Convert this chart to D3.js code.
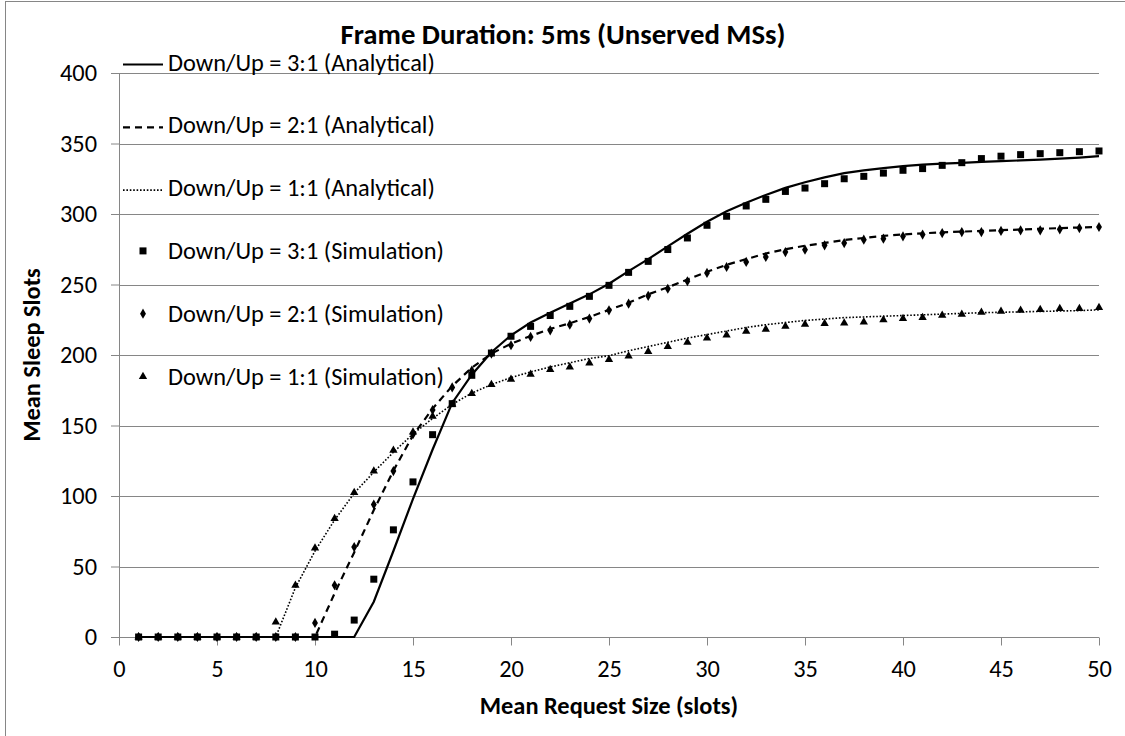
<!DOCTYPE html>
<html>
<head>
<meta charset="utf-8">
<script src="https://cdn.jsdelivr.net/npm/d3@7"></script>
<style>
  html, body { margin: 0; padding: 0; background: #fff; }
  svg { display: block; }
  text { font-family: Carlito, Lato, "Open Sans", sans-serif; fill: #000; }
</style>
</head>
<body>
<svg id="chart" width="1125" height="736"></svg>
<script>
// ---- data ----
const xValues = d3.range(1, 51);
const ana31 = [0,0,0,0,0,0,0,0,0,0,0,0,25,61,98,133,166,186,202,214,223,230,236.5,243,250.5,259.5,268,277,286,294.5,302,308,313.5,318.5,322.5,326,329,331,332.5,334,335,335.7,336.3,337,337.5,338,338.5,339.3,340,341];
const ana21 = [0,0,0,0,0,0,0,0,0,0,31,60,90,118,143,162,178,191,201,208,213.5,218.5,222.5,227,232,237,243,248,253.5,259,264,268,272,275,277.5,279.5,281.5,283,284.5,285.5,286.3,287,287.5,288,288.5,289,289.5,290,290.4,290.8];
const ana11 = [0,0,0,0,0,0,0,0,35,61,83,102,117,131,144,155,165,173,179,184,188,191.5,194.5,197.5,199.5,203,206,209,212,214.5,217,219.5,221.5,223,224.5,225.5,226.5,227,227.5,228,228.5,229,229.5,230,230.3,230.6,230.9,231.2,231.5,232];
const sim31 = [0,0,0,0,0,0,0,0,0,0,2,12,41,76,110,143.5,165.5,185.6,201.4,213.3,220.3,228,234.5,241.6,249.4,258.6,266.4,274.8,283,292,298.4,305.7,310.4,316,318.4,321.5,325,326.7,329,331,332.2,334.5,336.4,339.3,341,342.1,342.8,343.5,344.2,344.7];
const sim21 = [0,0,0,0,0,0,0,0,0,10,36.7,63.8,93.9,117.7,143.8,161,177,189,201,206.9,212.8,217.5,221.5,225.8,231.7,236.4,242,247,252.3,258.2,262.4,266,269.5,273,274.7,277.8,279.4,281.8,282.5,284.2,285.4,286.5,287.2,287.2,288,288.4,288.4,289.1,290,290.8];
const sim11 = [0,0,0,0,0,0,0,10.6,36.7,63,84,102.4,117.7,132.4,145.4,156.5,165,172.6,179,182.8,186.3,189.6,191.5,194.3,196.7,199.3,202.4,206,209,212,214.2,216.8,218.2,220.4,221.8,222.3,222.7,223.4,225,225.8,226.5,228.2,228.9,230.3,231,231.7,232.2,232.9,232.9,233.6];
const seriesNames = [
  "Down/Up = 3:1 (Analytical)",
  "Down/Up = 2:1 (Analytical)",
  "Down/Up = 1:1 (Analytical)",
  "Down/Up = 3:1 (Simulation)",
  "Down/Up = 2:1 (Simulation)",
  "Down/Up = 1:1 (Simulation)"
];
const xTicks = d3.range(0, 51, 5);
const yTicks = d3.range(0, 401, 50);
const titleText = "Frame Duration: 5ms (Unserved MSs)";
const xTitle = "Mean Request Size (slots)";
const yTitle = "Mean Sleep Slots";

// ---- layout ----
const svg = d3.select("#chart");
const grey = "#868686";
const x = d3.scaleLinear().domain([0, 50]).range([119, 1099]);
const y = d3.scaleLinear().domain([0, 400]).range([637, 73]);

function fit(sel, target) {
  const n = sel.node();
  const w = n.getComputedTextLength();
  const fs = parseFloat(sel.style("font-size"));
  sel.style("font-size", (fs * target / w) + "px");
  return fs * target / w;
}

// outer border
svg.append("rect").attr("x", 5.5).attr("y", 1.5).attr("width", 1130).attr("height", 750)
  .attr("fill", "none").attr("stroke", grey).attr("stroke-width", 1);

// gridlines
svg.append("g").selectAll("line").data(yTicks.filter(d => d > 0)).join("line")
  .attr("x1", x(0)).attr("x2", x(50))
  .attr("y1", d => Math.round(y(d)) + 0.5).attr("y2", d => Math.round(y(d)) + 0.5)
  .attr("stroke", grey).attr("stroke-width", 1);

// y axis
const yAxis = svg.append("g").attr("transform", `translate(${x(0)},0)`)
  .call(d3.axisLeft(y).tickValues(yTicks).tickSize(8).tickPadding(14).tickFormat(d3.format("d")));
yAxis.select(".domain").attr("stroke", grey).attr("d", `M0.5,${y(400)}V${y(0)}`);
yAxis.selectAll(".tick line").attr("stroke", grey);
yAxis.selectAll(".tick text").attr("font-family", null).style("font-size", "24px");

// x axis
const xAxis = svg.append("g").attr("transform", `translate(0,${Math.round(y(0)) + 0.5})`)
  .call(d3.axisBottom(x).tickValues(xTicks).tickSize(8).tickPadding(14).tickFormat(d3.format("d")));
xAxis.select(".domain").attr("stroke", grey).attr("d", `M${x(0)},0H${x(50)}`);
xAxis.selectAll(".tick line").attr("stroke", grey);
xAxis.selectAll(".tick text").attr("font-family", null).style("font-size", "24px");

// lines
const lineGen = d3.line().x((d, i) => x(xValues[i])).y(d => y(d)).curve(d3.curveLinear);
const lineStyles = [
  { data: ana31, dash: null, width: 2.2 },
  { data: ana21, dash: "7,5", width: 2.2 },
  { data: ana11, dash: "1.6,1.8", width: 1.6 }
];
lineStyles.forEach(s => {
  svg.append("path").attr("d", lineGen(s.data)).attr("fill", "none")
    .attr("stroke", "#000").attr("stroke-width", s.width)
    .attr("stroke-dasharray", s.dash);
});

// markers
const sym = [
  { data: sim31, type: d3.symbolSquare, size: 49 },
  { data: sim21, type: d3.symbolDiamond, size: 30 },
  { data: sim11, type: d3.symbolTriangle, size: 30 }
];
sym.forEach(s => {
  svg.append("g").selectAll("path").data(s.data).join("path")
    .attr("transform", (d, i) => `translate(${x(xValues[i])},${y(d)})`)
    .attr("d", d3.symbol().type(s.type).size(s.size)())
    .attr("fill", "#000");
});

// legend
const legY0 = 62.5, legDy = 62.8;
const leg = svg.append("g");
seriesNames.forEach((name, i) => {
  const cy = legY0 + i * legDy;
  if (i < 3) {
    const s = lineStyles[i];
    leg.append("line").attr("x1", 123).attr("x2", 163).attr("y1", cy + 2).attr("y2", cy + 2)
      .attr("stroke", "#000").attr("stroke-width", s.width).attr("stroke-dasharray", s.dash);
  } else {
    const s = sym[i - 3];
    leg.append("path").attr("transform", `translate(143,${cy})`)
      .attr("d", d3.symbol().type(s.type).size(s.size)()).attr("fill", "#000");
  }
  leg.append("text").attr("class", "legtext").attr("x", 168).attr("y", cy)
    .attr("dominant-baseline", "central").style("font-size", "24px").text(name);
});
const legFs = fit(leg.select("text.legtext"), 267);
leg.selectAll("text.legtext").style("font-size", legFs + "px");
yAxis.selectAll(".tick text").style("font-size", legFs + "px");
xAxis.selectAll(".tick text").style("font-size", legFs + "px");

// title
const t = svg.append("text").attr("x", 563).attr("y", 44).attr("text-anchor", "middle")
  .style("font-weight", "bold").style("font-size", "24px").text(titleText);
fit(t, 445);

// axis titles
svg.append("text").attr("x", x(25)).attr("y", 714).attr("text-anchor", "middle")
  .style("font-weight", "bold").style("font-size", (legFs) + "px").text(xTitle);
svg.append("text").attr("transform", `translate(40,${y(200)}) rotate(-90)`)
  .attr("text-anchor", "middle")
  .style("font-weight", "bold").style("font-size", (legFs) + "px").text(yTitle);
</script>
</body>
</html>
